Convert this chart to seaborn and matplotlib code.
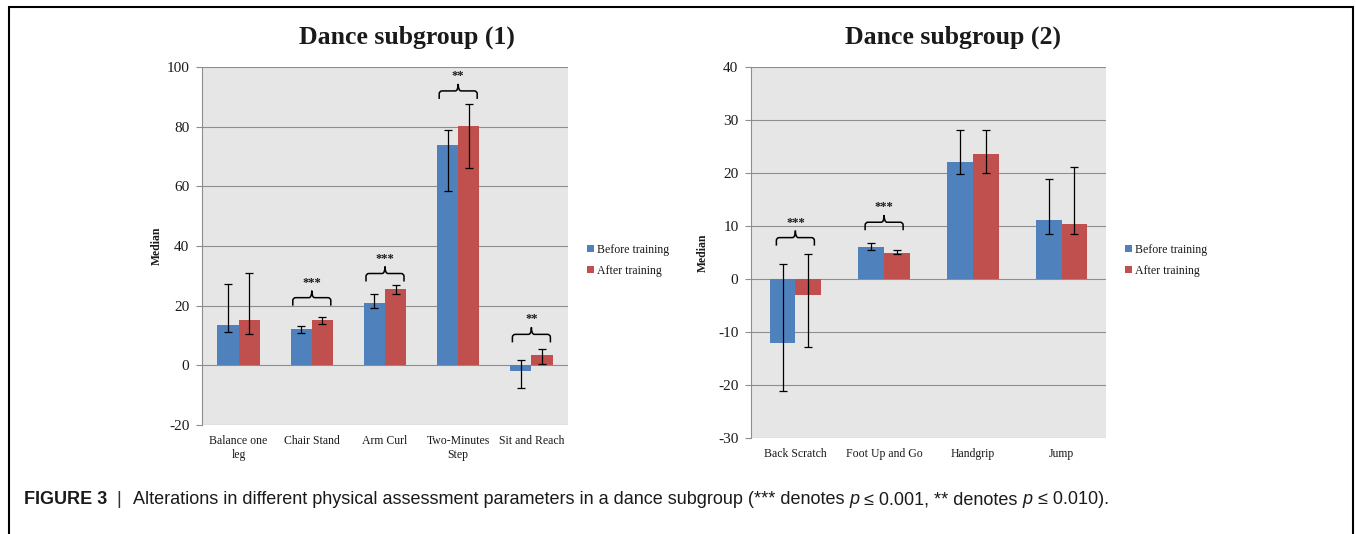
import numpy as np
import pandas as pd
import matplotlib
matplotlib.use("Agg")
import matplotlib.pyplot as plt
import seaborn as sns
from matplotlib.path import Path
from matplotlib.patches import PathPatch, Rectangle

# ---------------- data ----------------
groups = ["Before training", "After training"]
group_colors = ["#4f81bd", "#c0504d"]

cats_1 = ["Balance one\nleg", "Chair Stand", "Arm Curl", "Two-Minutes\nStep", "Sit and Reach"]
before_1 = [13.5, 12.1, 21.0, 73.9, -1.8]
after_1 = [15.2, 15.2, 25.5, 80.1, 3.5]
before_1_lo = [11.3, 10.7, 19.1, 58.3, -7.7]
before_1_hi = [27.2, 13.2, 23.9, 79.0, 1.8]
after_1_lo = [10.4, 13.9, 23.8, 66.3, 0.3]
after_1_hi = [30.9, 16.1, 26.8, 87.6, 5.4]
stars_1 = ["", "***", "***", "**", "**"]
brace_base_1 = [None, 20.0, 28.1, 89.3, 7.7]

cats_2 = ["Back Scratch", "Foot Up and Go", "Handgrip", "Jump"]
before_2 = [-12.1, 6.1, 22.0, 11.2]
after_2 = [-3.0, 5.0, 23.5, 10.4]
before_2_lo = [-21.2, 5.5, 19.9, 8.4]
before_2_hi = [2.9, 6.7, 28.1, 18.8]
after_2_lo = [-12.9, 4.7, 20.0, 8.4]
after_2_hi = [4.8, 5.5, 28.1, 21.2]
stars_2 = ["***", "***", "", ""]
brace_base_2 = [6.3, 9.2, None, None]

# ---------------- style ----------------
sns.set_style("white")
plt.rcParams["font.family"] = ["Liberation Serif", "DejaVu Serif"]
plt.rcParams["axes.unicode_minus"] = False

W, H, DPI = 1356, 534, 100
fig = plt.figure(figsize=(W / DPI, H / DPI), dpi=DPI)

GRID = "#8e8e8e"
BG = "#e6e6e6"
INK = "#1a1a1a"


def fig_box(x0, y0, x1, y1):
    """Pixel box (top-left origin) -> figure fraction rect."""
    return [x0 / W, 1 - y1 / H, (x1 - x0) / W, (y1 - y0) / H]


def draw_brace(ax, xc, y_base, label, half_px=19, rise_px=8, peak_px=7, r_px=3):
    tr = ax.transData
    cx, by = tr.transform((xc, y_base))
    x0, x1 = cx - half_px, cx + half_px
    yh = by + rise_px
    yp = yh + peak_px
    verts = [
        (x0, by), (x0, yh - r_px), (x0, yh), (x0 + r_px, yh),
        (cx - r_px, yh), (cx, yh), (cx, yp), (cx, yh), (cx + r_px, yh),
        (x1 - r_px, yh), (x1, yh), (x1, yh - r_px), (x1, by),
    ]
    codes = [
        Path.MOVETO, Path.LINETO, Path.CURVE3, Path.CURVE3,
        Path.LINETO, Path.CURVE3, Path.CURVE3, Path.CURVE3, Path.CURVE3,
        Path.LINETO, Path.CURVE3, Path.CURVE3, Path.LINETO,
    ]
    inv = tr.inverted()
    dverts = inv.transform(np.array(verts))
    ax.add_patch(PathPatch(Path(dverts, codes), fill=False, edgecolor="black",
                           lw=1.1, clip_on=False, zorder=5))
    tx, ty = inv.transform((cx, yh + 12))
    ax.text(tx, ty, label, ha="center", va="baseline", fontsize=9,
            fontweight="bold", color=INK, zorder=6)


def panel(rect, cats, before, after, b_lo, b_hi, a_lo, a_hi, stars, brace_base,
          ylim, yticks, legend_xy, ylabel_x, title, title_x):
    ax = fig.add_axes(rect)
    df = pd.DataFrame({
        "test": cats * 2,
        "group": [groups[0]] * len(cats) + [groups[1]] * len(cats),
        "median": list(before) + list(after),
    })
    sns.barplot(data=df, x="test", y="median", hue="group", order=cats,
                hue_order=groups, palette=group_colors, width=0.58, gap=0,
                saturation=1, linewidth=0, errorbar=None, ax=ax)

    # asymmetric whiskers drawn at the centre of each bar
    for cont, vals, lo, hi in zip(ax.containers, [before, after], [b_lo, a_lo], [b_hi, a_hi]):
        xs = [b.get_x() + b.get_width() / 2 for b in cont]
        vals = np.asarray(vals)
        yerr = [vals - np.asarray(lo), np.asarray(hi) - vals]
        ax.errorbar(xs, vals, yerr=yerr, fmt="none", ecolor="black",
                    elinewidth=0.9, capsize=3, capthick=0.9, zorder=4)

    ax.set_ylim(*ylim)
    ax.set_yticks(yticks)
    ax.set_xlim(-0.5, len(cats) - 0.5)
    ax.set_facecolor(BG)
    ax.yaxis.grid(True, color=GRID, lw=0.8)
    ax.xaxis.grid(False)
    ax.set_axisbelow(True)
    for s in ["top", "right", "bottom"]:
        ax.spines[s].set_visible(False)
    ax.spines["left"].set_color(GRID)
    ax.spines["left"].set_linewidth(0.8)
    ax.tick_params(axis="y", length=4, width=0.8, color=GRID, pad=5,
                   labelsize=11, labelcolor=INK, left=True)
    ax.tick_params(axis="x", length=0, pad=7, labelsize=8.5, labelcolor=INK)
    for lab in ax.get_xticklabels():
        lab.set_linespacing(1.25)
    ax.set_xlabel("")
    ax.set_ylabel("Median", fontsize=8.5, fontweight="bold", color=INK)
    ax.yaxis.set_label_coords(ylabel_x, 0.5)

    for i, (s, base) in enumerate(zip(stars, brace_base)):
        if base is not None:
            draw_brace(ax, i, base, s)

    handles, labels = ax.get_legend_handles_labels()
    leg = ax.legend(handles, labels, loc="upper left",
                    bbox_to_anchor=(legend_xy[0] / W, 1 - legend_xy[1] / H),
                    bbox_transform=fig.transFigure, frameon=False, fontsize=8.6,
                    handlelength=0.55, handleheight=0.55, handletextpad=0.25,
                    labelspacing=0.75, borderpad=0, borderaxespad=0)
    for t in leg.get_texts():
        t.set_color(INK)

    fig.text(title_x / W, 1 - 37 / H, title, ha="center", va="center",
             fontsize=18.5, fontweight="bold", color=INK)
    return ax


ax1 = panel(fig_box(202, 67, 568, 425), cats_1, before_1, after_1,
            before_1_lo, before_1_hi, after_1_lo, after_1_hi, stars_1, brace_base_1,
            (-20, 100), np.arange(-20, 101, 20), (587, 244), -0.107,
            "Dance subgroup (1)", 407)
ax2 = panel(fig_box(751, 67, 1106, 438), cats_2, before_2, after_2,
            before_2_lo, before_2_hi, after_2_lo, after_2_hi, stars_2, brace_base_2,
            (-30, 40), np.arange(-30, 41, 10), (1125, 244), -0.118,
            "Dance subgroup (2)", 953)

# outer frame of the figure panel
fig.patches.append(Rectangle((8.5 / W, -0.05), (1352.5 - 8.5) / W, 1.05 - 6.5 / H,
                             transform=fig.transFigure, fill=False,
                             edgecolor="black", lw=1.5, zorder=10))

# caption built from runs of differently styled text
renderer = fig.canvas.get_renderer()
sans = ["Liberation Sans", "DejaVu Sans"]
cap_size = 13
cap_y = 1 - 500 / H


def run_width(t):
    bb = t.get_window_extent(renderer=renderer)
    return bb.width


probe_a = fig.text(0, 0, "ab", fontsize=cap_size, family=sans)
probe_b = fig.text(0, 0, "a b", fontsize=cap_size, family=sans)
space_px = run_width(probe_b) - run_width(probe_a)
probe_a.remove()
probe_b.remove()

runs = [
    ("FIGURE 3", dict(fontweight="bold", color=INK), 9),
    ("|", dict(color="#333333"), 12),
    ("Alterations in different physical assessment parameters in a dance subgroup (*** denotes",
     dict(color=INK), space_px),
    ("p", dict(style="italic", color=INK), space_px),
    ("≤ 0.001, ** denotes", dict(color=INK), space_px),
    ("p", dict(style="italic", color=INK), space_px),
    ("≤ 0.010).", dict(color=INK), 0),
]
x_px = 24
for text, props, gap in runs:
    t = fig.text(x_px / W, cap_y, text, ha="left", va="center", fontsize=cap_size,
                 family=sans, **props)
    x_px += run_width(t) + gap

fig.savefig("out.png", dpi=DPI)
